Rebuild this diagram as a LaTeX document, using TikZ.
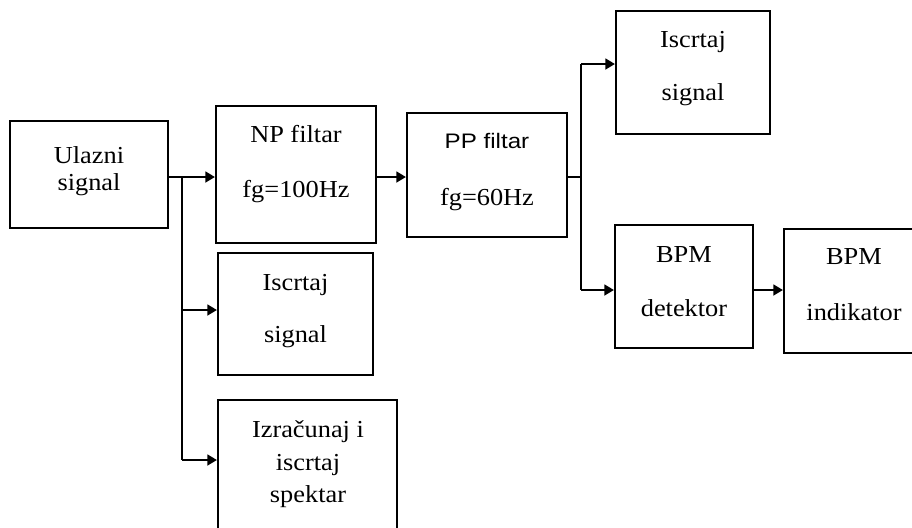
\documentclass[tikz,border=0pt]{standalone}
\usepackage{fontspec}
\setmainfont{Liberation Serif}[FakeStretch=1.08]
\newfontfamily\ppfont{Liberation Sans}[FakeStretch=1.15]
\usetikzlibrary{arrows.meta,fit}
\begin{document}
\begin{tikzpicture}[x=0.5pt,y=-0.5pt,
  box/.style={draw=black,line width=1.1pt,inner sep=0pt,rectangle},
  txt/.style={anchor=base,inner sep=0pt,font=\fontsize{12.2}{14}\selectfont},
  conn/.style={draw=black,line width=0.9pt},
  arr/.style={conn,-{Triangle[length=4.8pt,width=5.5pt]}}]
\useasboundingbox (0,0) rectangle (912,527);
\clip (0,0) rectangle (912,527);
% corner coordinates of boxes
\coordinate (a1) at (10,121);  \coordinate (a2) at (168,228);
\coordinate (b1) at (216,106); \coordinate (b2) at (376,243);
\coordinate (c1) at (407,113); \coordinate (c2) at (567,237);
\coordinate (d1) at (616,11);  \coordinate (d2) at (770,134);
\coordinate (e1) at (615,225); \coordinate (e2) at (753,348);
\coordinate (f1) at (784,229); \coordinate (f2) at (924,353);
\coordinate (g1) at (218,253); \coordinate (g2) at (373,375);
\coordinate (h1) at (218,400); \coordinate (h2) at (397,545);
% boxes
\node[box,fit=(a1)(a2)] (A) {};
\node[box,fit=(b1)(b2)] (B) {};
\node[box,fit=(c1)(c2)] (C) {};
\node[box,fit=(d1)(d2)] (D) {};
\node[box,fit=(e1)(e2)] (E) {};
\node[box,fit=(f1)(f2)] (F) {};
\node[box,fit=(g1)(g2)] (G) {};
\node[box,fit=(h1)(h2)] (H) {};
% texts
\node[txt] (A1) at (89,163) {Ulazni};
\node[txt] (A2) at (89,190) {signal};
\node[txt] (B1) at (296,142) {NP filtar};
\node[txt] (B2) at (296,197) {fg=100Hz};
\node[txt,font=\ppfont\fontsize{10.5}{12}\selectfont] (C1) at (487,148) {PP filtar};
\node[txt] (C2) at (487,205) {fg=60Hz};
\node[txt] (D1) at (693,47) {Iscrtaj};
\node[txt] (D2) at (693,100) {signal};
\node[txt] (E1) at (684,262) {BPM};
\node[txt] (E2) at (684,316) {detektor};
\node[txt] (F1) at (854,264) {BPM};
\node[txt] (F2) at (854,320) {indikator};
\node[txt] (G1) at (295.5,290) {Iscrtaj};
\node[txt] (G2) at (295.5,342) {signal};
\node[txt] (H1) at (308,437) {Izračunaj i};
\node[txt] (H2) at (308,470) {iscrtaj};
\node[txt] (H3) at (308,502) {spektar};
% junctions
\coordinate (J1) at (182,177);
\coordinate (J1b) at (182,460);
\coordinate (J2) at (581,177);
\coordinate (J2t) at (581,64);
\coordinate (J2b) at (581,290);
% connectors
\draw[conn] (A.east |- J1) -- (J1);
\draw[arr] (J1) -- (B.west |- J1);
\draw[conn] (J1) -- (J1b);
\draw[arr] (J1 |- 0,310) -- (G.west |- 0,310);
\draw[arr] (J1b) -- (H.west |- J1b);
\draw[arr] (B.east |- J1) -- (C.west |- J1);
\draw[conn] (C.east |- J2) -- (J2);
\draw[conn] (J2t) -- (J2b);
\draw[arr] (J2t) -- (D.west |- J2t);
\draw[arr] (J2b) -- (E.west |- J2b);
\draw[arr] (E.east |- J2b) -- (F.west |- J2b);
\end{tikzpicture}
\end{document}
